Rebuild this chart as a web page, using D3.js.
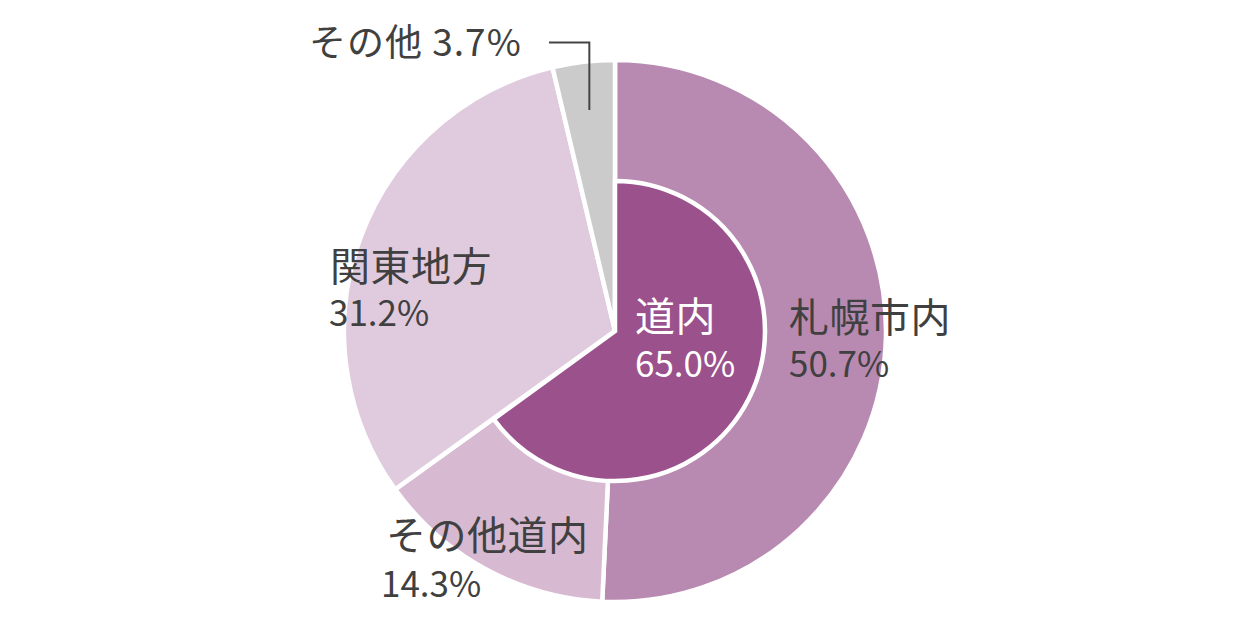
<!DOCTYPE html>
<html><head><meta charset="utf-8">
<script src="https://cdn.jsdelivr.net/npm/d3@7"></script>
<style>
html,body{margin:0;padding:0;background:#fff;}
svg{display:block;}
text{font-family:"Noto Sans CJK JP","Noto Sans",sans-serif;}
</style></head>
<body>
<svg id="chart" width="1260" height="630"></svg>
<script>
const outerCategories = ["札幌市内", "その他道内", "関東地方", "その他"];
const outerValues = [50.7, 14.3, 31.2, 3.7];
const outerColors = ["#b88ab1", "#d7b9d1", "#e0cbde", "#cbcbcb"];
const innerCategories = ["道内", "_rest"];
const innerValues = [65.0, 35.0];
const innerColors = ["#9a518c", "none"];

const W = 1260, H = 630;
const cx = 615, cy = 331;
const rOuter = 271, rInner = 150;
const textColor = "#404040";

const svg = d3.select("#chart");
const g = svg.append("g").attr("transform", `translate(${cx},${cy})`);

const pie = d3.pie().sort(null).value(d => d.v);
const outerData = pie(outerCategories.map((c, i) => ({c, v: outerValues[i], col: outerColors[i]})));
const innerData = pie(innerCategories.map((c, i) => ({c, v: innerValues[i], col: innerColors[i]})));

const arcOuter = d3.arc().innerRadius(0).outerRadius(rOuter);
const arcInner = d3.arc().innerRadius(0).outerRadius(rInner);

g.selectAll("path.outer").data(outerData).join("path")
  .attr("class", "outer")
  .attr("d", arcOuter)
  .attr("fill", d => d.data.col)
  .attr("stroke", "#fff").attr("stroke-width", 4.5).attr("stroke-linejoin", "miter");

g.selectAll("path.inner").data(innerData.filter(d => d.data.col !== "none")).join("path")
  .attr("class", "inner")
  .attr("d", arcInner)
  .attr("fill", d => d.data.col)
  .attr("stroke", "#fff").attr("stroke-width", 4.5);

// label layout (page coordinates)
const labelLayout = {
  "札幌市内": {x: 789, y1: 332, y2: 377, color: textColor},
  "その他道内": {x: 386, y1: 550, y2: 597, color: textColor, x2: 381},
  "関東地方": {x: 330, y1: 281, y2: 326, color: textColor, x2: 329},
  "道内": {x: 635, y1: 331, y2: 377, color: "#ffffff"}
};

function fmt(v){ return v.toFixed(1) + "%"; }

const labels = [
  {c: outerCategories[0], v: outerValues[0]},
  {c: outerCategories[1], v: outerValues[1]},
  {c: outerCategories[2], v: outerValues[2]},
  {c: innerCategories[0], v: innerValues[0]}
];

labels.forEach(l => {
  const L = labelLayout[l.c];
  const t = svg.append("text").attr("fill", L.color);
  t.append("tspan").attr("x", L.x).attr("y", L.y1)
    .attr("font-size", 40).attr("letter-spacing", 0.5)
    .text(l.c);
  t.append("tspan").attr("x", L.x2 || L.x).attr("y", L.y2)
    .attr("font-size", 35).attr("letter-spacing", 0)
    .text(fmt(l.v));
});

// "その他" label with leader line
svg.append("text").attr("x", 309).attr("y", 56)
  .attr("fill", textColor).attr("font-size", 37).attr("letter-spacing", 1)
  .text(outerCategories[3] + " " + fmt(outerValues[3]));

const smallSlice = outerData[3];
const midAng = (smallSlice.startAngle + smallSlice.endAngle) / 2;
const lx = cx + Math.sin(midAng) * (rOuter - 50);
svg.append("path")
  .attr("d", `M549,42.5H${lx}V110`)
  .attr("fill", "none").attr("stroke", "#444").attr("stroke-width", 2);
</script>
</body></html>
